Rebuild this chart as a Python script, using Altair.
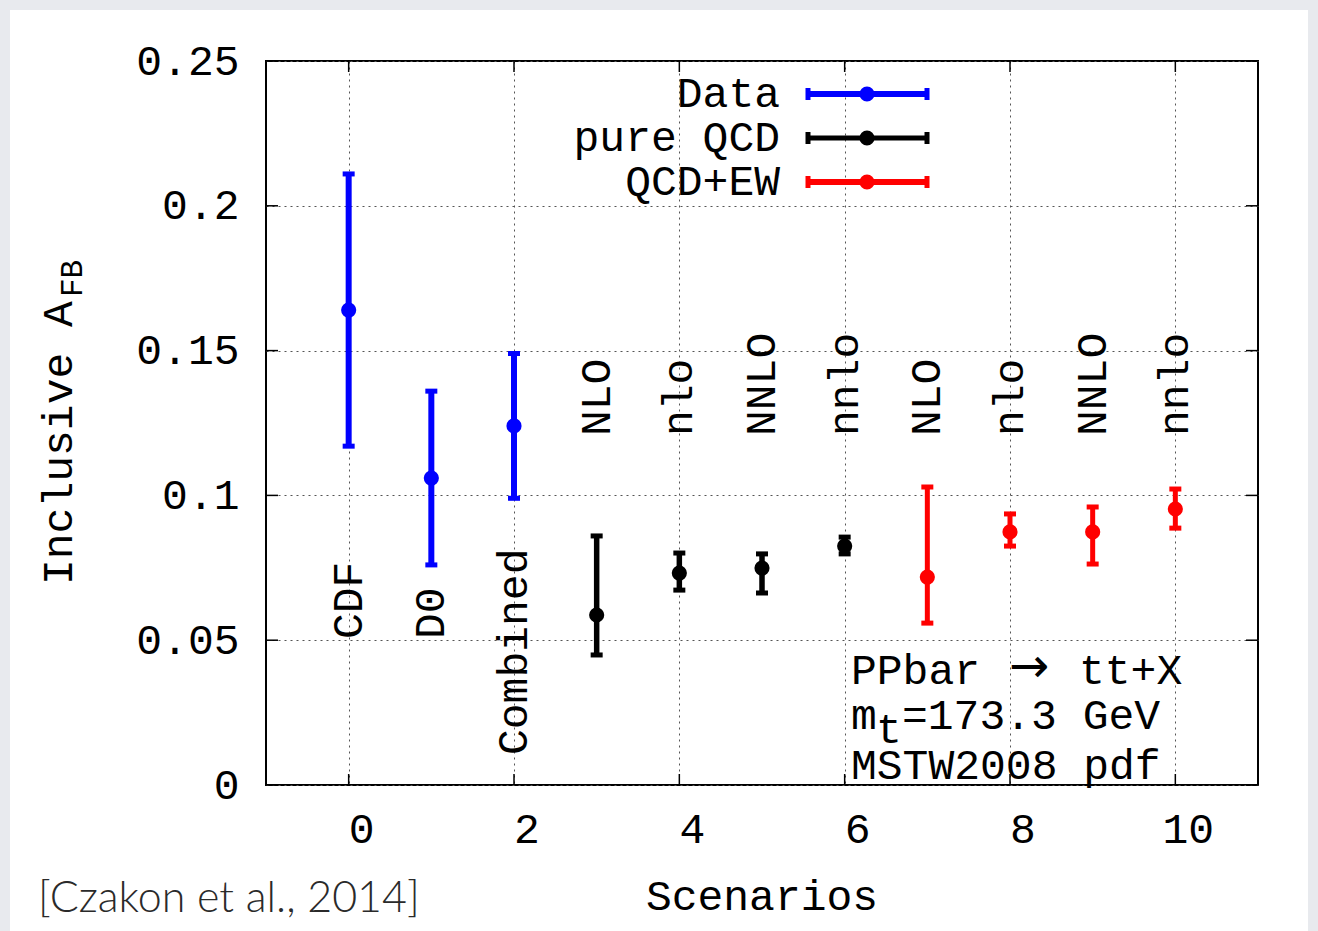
import altair as alt
import pandas as pd

# Inclusive forward-backward asymmetry per scenario
scenario = [0, 1, 2, 3, 4, 5, 6, 7, 8, 9, 10]
label = ["CDF", "D0", "Combined", "NLO", "nlo", "NNLO", "nnlo", "NLO", "nlo", "NNLO", "nnlo"]
series = ["Data"] * 3 + ["pure QCD"] * 4 + ["QCD+EW"] * 4
afb = [0.164, 0.106, 0.124, 0.0587, 0.0732, 0.0749, 0.0825, 0.0718, 0.0874, 0.0874, 0.0953]
afb_up = [0.211, 0.136, 0.149, 0.0860, 0.0801, 0.0798, 0.0856, 0.1029, 0.0936, 0.0960, 0.1022]
afb_down = [0.117, 0.076, 0.099, 0.0449, 0.0673, 0.0663, 0.0798, 0.0559, 0.0825, 0.0763, 0.0887]

series_names = ["Data", "pure QCD", "QCD+EW"]
series_colors = ["#0000ff", "#000000", "#ff0000"]
series_widths = [6, 5, 6]

x_ticks = [0, 2, 4, 6, 8, 10]
y_ticks = [0, 0.05, 0.1, 0.15, 0.2, 0.25]

W, H = 992, 724
FONT = "Liberation Mono"
FS = 43
BORDER = "#e8eaee"
PT = 230

df = pd.DataFrame({
    "scenario": scenario, "label": label, "series": series,
    "afb": afb, "afb_up": afb_up, "afb_down": afb_down,
})
one = pd.DataFrame({"k": [0]})
xt = pd.DataFrame({"x": x_ticks, "txt": [str(v) for v in x_ticks]})
yt = pd.DataFrame({"y": y_ticks})

xscale = alt.Scale(domain=[-1, 11], nice=False, zero=False)
yscale = alt.Scale(domain=[0, 0.25], nice=False, zero=False)
xaxis = alt.Axis(values=x_ticks, title=None, grid=True, gridDash=[2, 4], gridColor="#555555",
                 gridWidth=1, ticks=False, tickSize=0, domain=False, labels=False)
yaxis = alt.Axis(values=y_ticks, title=None, grid=True, gridDash=[2, 4], gridColor="#555555",
                 gridWidth=1, ticks=False, tickSize=0, domain=False, labelFont=FONT,
                 labelFontSize=FS, labelColor="black", labelPadding=27, format=".2~f",
                 labelFlush=False)
color = alt.Color("series:N", scale=alt.Scale(domain=series_names, range=series_colors), legend=None)


def X(field):
    return alt.X(field, type="quantitative", scale=xscale, axis=xaxis)


def Y(field):
    return alt.Y(field, type="quantitative", scale=yscale, axis=yaxis)


layers = []

# error bars, caps and central values
layers.append(alt.Chart(df).mark_rule(opacity=1).encode(
    x=X("scenario"), y=Y("afb_down"), y2="afb_up", color=color,
    strokeWidth=alt.StrokeWidth("series:N", scale=alt.Scale(domain=series_names, range=series_widths), legend=None)))
for f in ["afb_up", "afb_down"]:
    layers.append(alt.Chart(df).mark_tick(orient="horizontal", size=12, thickness=5, opacity=1).encode(
        x=X("scenario"), y=Y(f), color=color))
layers.append(alt.Chart(df).mark_circle(size=PT, opacity=1).encode(
    x=X("scenario"), y=Y("afb"), color=color))

# rotated scenario names
label_rows = [([0, 1], 578), ([2], 694), (list(range(3, 11)), 375)]
for idx, ypix in label_rows:
    layers.append(alt.Chart(df.iloc[idx]).mark_text(
        angle=270, align="left", baseline="middle", font=FONT, fontSize=FS, color="black").encode(
        x=X("scenario"), y=alt.value(ypix), text="label:N"))

# x tick labels, set slightly right of their ticks
layers.append(alt.Chart(xt).mark_text(
    align="center", baseline="middle", font=FONT, fontSize=FS, color="black", dx=13).encode(
    x=X("x"), y=alt.value(H + 45), text="txt:N"))

# inward tick marks on all four sides
for y0, y1 in [(H, H - 11), (0, 11)]:
    layers.append(alt.Chart(xt).mark_rule(color="black", strokeWidth=1.5).encode(
        x=X("x"), y=alt.value(y0), y2=alt.value(y1)))
for x0, x1 in [(0, 12), (W - 12, W)]:
    layers.append(alt.Chart(yt).mark_rule(color="black", strokeWidth=1.5).encode(
        y=Y("y"), x=alt.value(x0), x2=alt.value(x1)))

# key
for i, (name, col, sw) in enumerate(zip(series_names, series_colors, series_widths)):
    ly = 33 + 44 * i
    layers.append(alt.Chart(one).mark_rule(color=col, strokeWidth=sw).encode(
        x=alt.value(541), x2=alt.value(662), y=alt.value(ly)))
    for cx in [542, 661]:
        layers.append(alt.Chart(one).mark_rule(color=col, strokeWidth=5).encode(
            x=alt.value(cx), y=alt.value(ly - 6), y2=alt.value(ly + 6)))
    layers.append(alt.Chart(one).mark_circle(color=col, size=PT, opacity=1).encode(
        x=alt.value(601), y=alt.value(ly)))
    layers.append(alt.Chart(one).mark_text(
        align="right", baseline="middle", font=FONT, fontSize=FS, color="black", text=name).encode(
        x=alt.value(514), y=alt.value(ly)))


def note(text, x, y, size=FS, font=FONT, color="black", angle=0, align="left", weight="normal"):
    return alt.Chart(one).mark_text(
        text=text, align=align, baseline="middle", font=font, fontSize=size, color=color,
        angle=angle, fontWeight=weight).encode(x=alt.value(x), y=alt.value(y))


# process description
layers.append(note("PPbar", 585, 610))
layers.append(note("\u2192", 743, 607, font="DejaVu Sans", size=48))
layers.append(note("tt+X", 813, 610))
layers.append(note("m", 585, 655))
layers.append(note("t", 610, 669))
layers.append(note("=173.3 GeV", 636, 655))
layers.append(note("MSTW2008 pdf", 585, 705))

# axis titles
layers.append(note("Scenarios", 496, 836, align="center"))
layers.append(note("Inclusive A", -207, 524, angle=270))
layers.append(note("FB", -193, 236, size=31, angle=270))

# slide frame and citation
for x0, x1, y0, y1 in [(-266, 1052, -61, -51), (-266, -256, -61, 870), (1042, 1052, -61, 870)]:
    layers.append(alt.Chart(one).mark_rect(color=BORDER).encode(
        x=alt.value(x0), x2=alt.value(x1), y=alt.value(y0), y2=alt.value(y1)))
layers.append(note("[Czakon et al., 2014]", -228, 838, size=43, font="Lato", color="#2a2a2a", weight=300))

chart = alt.layer(*layers).properties(
    width=W, height=H,
    autosize=alt.AutoSizeParams(type="none"),
    padding={"left": 266, "top": 61, "right": 60, "bottom": 146},
).configure(background="white").configure_view(stroke="black", strokeWidth=2)

chart.save("out.html", embed_options={"renderer": "svg", "actions": False})
